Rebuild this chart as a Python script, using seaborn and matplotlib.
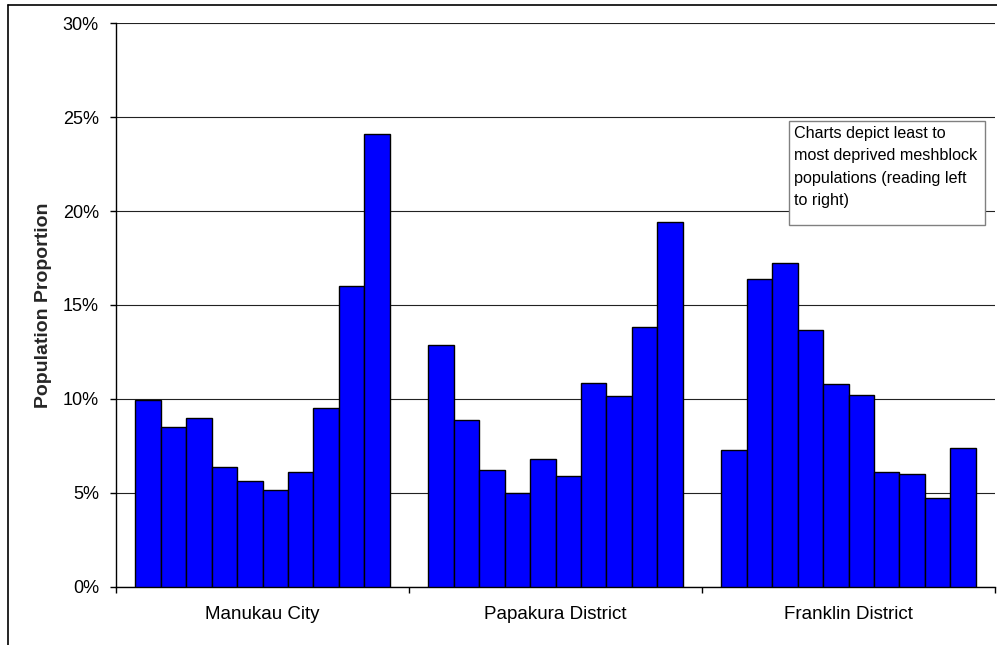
import numpy as np
import pandas as pd
import seaborn as sns
import matplotlib.pyplot as plt
from matplotlib.ticker import PercentFormatter, FixedLocator
from matplotlib.lines import Line2D
from matplotlib.patches import Rectangle

districts = ["Manukau City", "Papakura District", "Franklin District"]
deciles = list(range(1, 11))

# population proportion (%) per deprivation decile, least to most deprived
manukau = [9.93, 8.50, 8.97, 6.37, 5.63, 5.15, 6.12, 9.53, 16.01, 24.09]
papakura = [12.87, 8.88, 6.21, 4.97, 6.80, 5.91, 10.85, 10.13, 13.81, 19.42]
franklin = [7.28, 16.36, 17.25, 13.65, 10.79, 10.21, 6.09, 5.98, 4.72, 7.40]

note = "Charts depict least to\nmost deprived meshblock\npopulations (reading left\nto right)"

df = pd.DataFrame({
    "district": np.repeat(districts, 10),
    "decile": deciles * 3,
    "value": manukau + papakura + franklin,
})

sns.set_theme(style="white")
plt.rcParams["font.family"] = ["Liberation Sans", "DejaVu Sans"]

fig = plt.figure(figsize=(9.97, 6.45), dpi=100)
ax = fig.add_axes([116 / 997, 1 - 586.5 / 645, (995 - 116) / 997, (586.5 - 23.3) / 645])

sns.barplot(data=df, x="district", y="value", hue="decile",
            palette=["#0000FF"] * 10, width=0.867, gap=0,
            edgecolor="black", linewidth=1.0, saturation=1,
            legend=False, ax=ax, zorder=3)

ax.set_xlim(-0.5, 2.5)
ax.set_ylim(0, 30)
ax.set_yticks(range(0, 31, 5))
ax.yaxis.set_major_formatter(PercentFormatter(xmax=100, decimals=0))
ax.grid(axis="y", color="#222222", linewidth=0.8, zorder=0)
ax.set_axisbelow(True)

ax.xaxis.set_minor_locator(FixedLocator([-0.5, 0.5, 1.5, 2.5]))
ax.tick_params(axis="x", which="major", length=0, pad=14, labelsize=13.5, colors="black")
ax.tick_params(axis="x", which="minor", length=4.3, width=1, color="black", bottom=True)
ax.tick_params(axis="y", length=4.3, width=1, color="black", left=True, pad=8,
               labelsize=13, labelcolor="black")

ax.set_xlabel("")
ax.set_ylabel("Population Proportion", fontsize=14, fontweight="bold", labelpad=8)

for side in ["top", "right"]:
    ax.spines[side].set_visible(False)
for side in ["left", "bottom"]:
    ax.spines[side].set_color("black")
    ax.spines[side].set_linewidth(1.0)

# outer chart frame (cropped on right and bottom)
fig.add_artist(Line2D([8 / 997, 1.0], [1 - 5 / 645, 1 - 5 / 645], color="black", lw=1.2,
                      transform=fig.transFigure))
fig.add_artist(Line2D([8 / 997, 8 / 997], [0, 1 - 5 / 645], color="black", lw=1.2,
                      transform=fig.transFigure))

# note box
fig.add_artist(Rectangle((789 / 997, 1 - 225 / 645), (985 - 789) / 997, (225 - 121) / 645,
                         transform=fig.transFigure, facecolor="white",
                         edgecolor="#808080", lw=1, zorder=5))
fig.text(794 / 997, 1 - 126 / 645, note, ha="left", va="top", fontsize=11.6,
         linespacing=1.62, color="black", zorder=6)

fig.savefig("out.png", dpi=100)
